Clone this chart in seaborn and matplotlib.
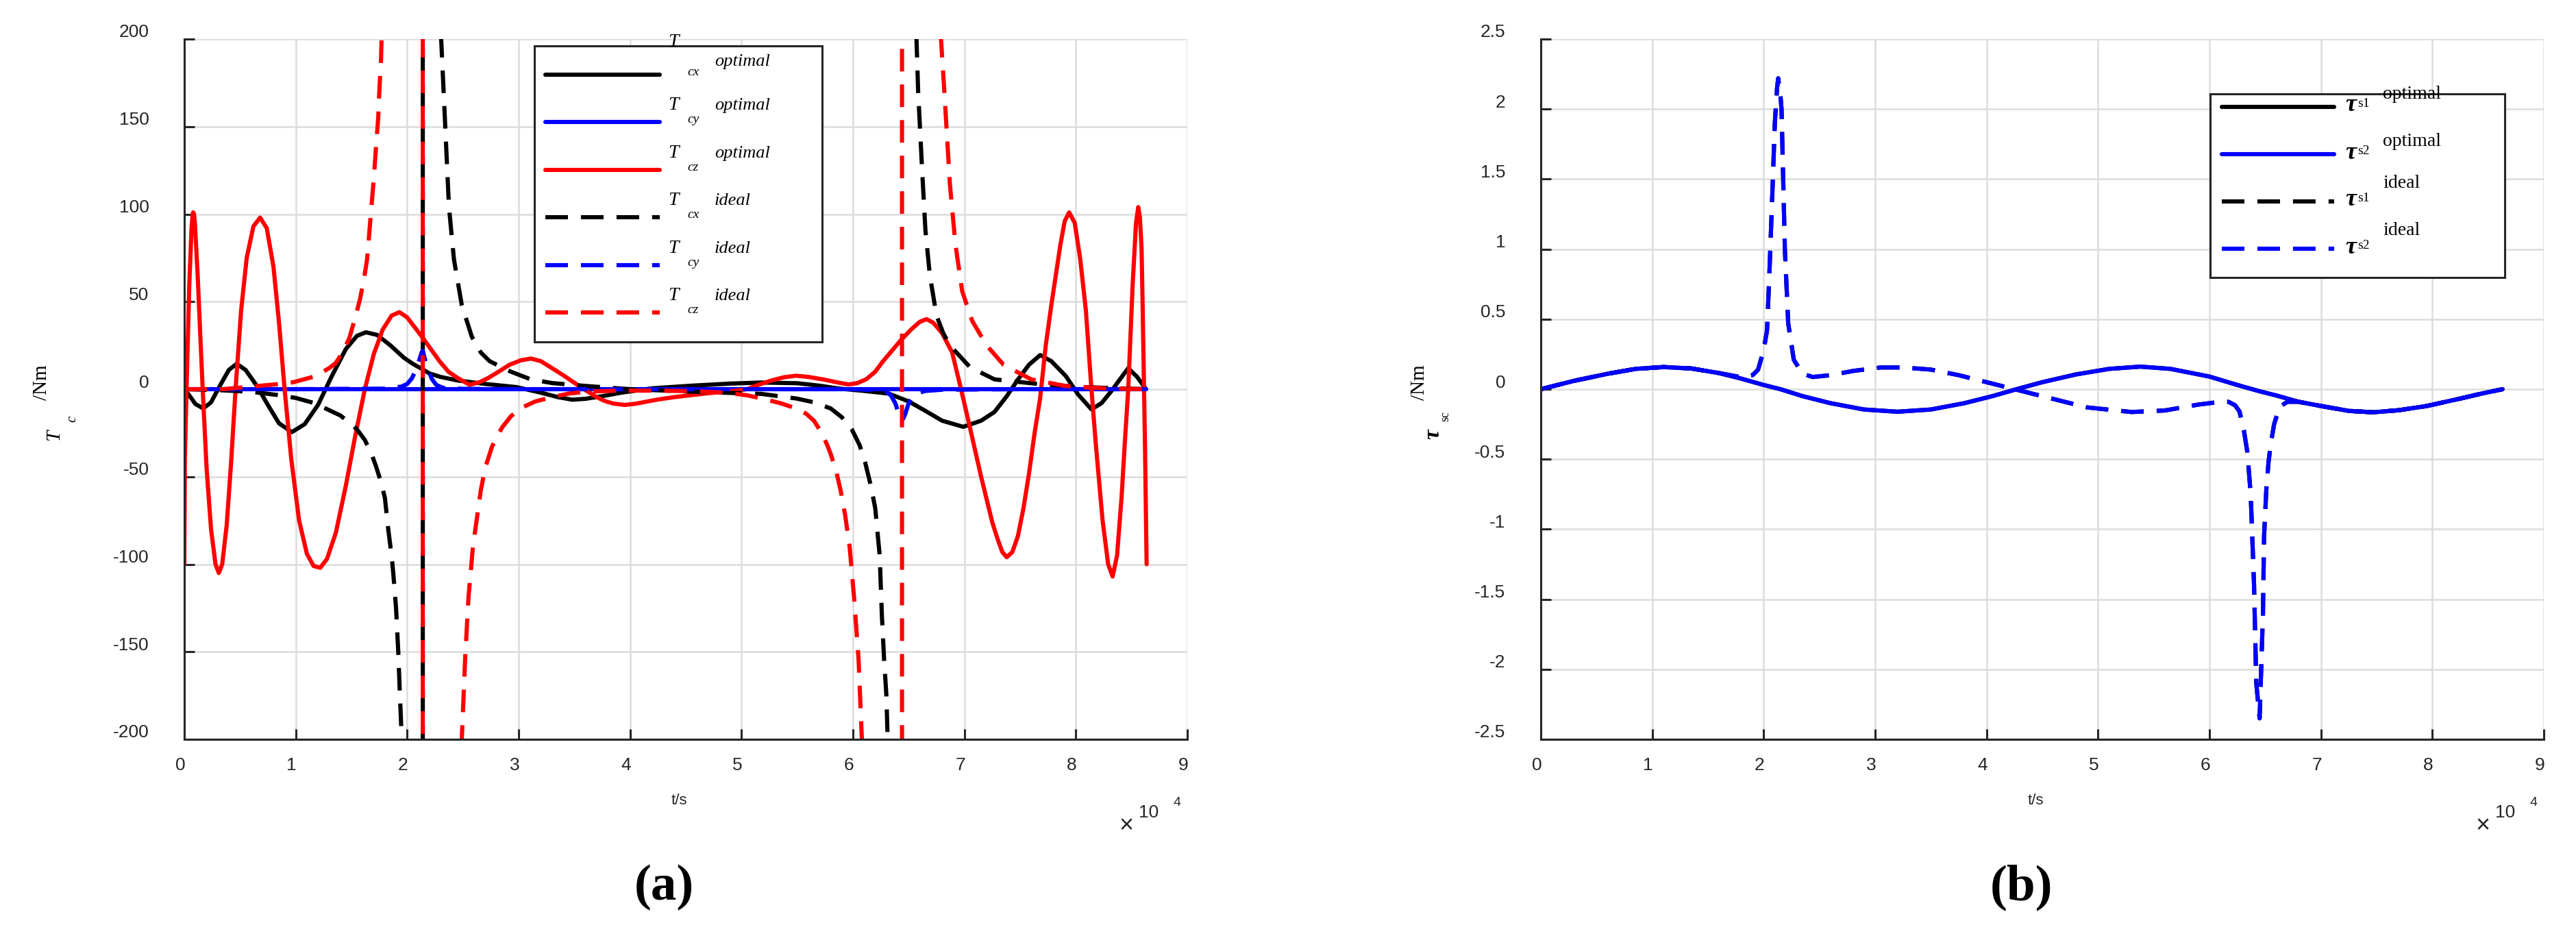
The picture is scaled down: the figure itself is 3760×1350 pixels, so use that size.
import numpy as np
import pandas as pd
import matplotlib
matplotlib.use("Agg")
import matplotlib.pyplot as plt
import seaborn as sns
from matplotlib.lines import Line2D
from matplotlib.patches import Rectangle
from matplotlib.transforms import ScaledTranslation

# ------------------------------------------------------------------
# DATA  (time in units of 1e4 s, value)
# ------------------------------------------------------------------
# (a) T_cx optimal
cx_opt = [(0.00, 0.0), (0.05, -4), (0.10, -8.5), (0.17, -11), (0.24, -7.5), (0.32, 2), (0.40, 11),
          (0.47, 14.5), (0.55, 11), (0.65, 2), (0.75, -9), (0.85, -19.5), (0.965, -24.5), (1.08, -20),
          (1.20, -9), (1.32, 7), (1.45, 23), (1.55, 30.5), (1.63, 32.5), (1.73, 31), (1.85, 25),
          (1.97, 18), (2.05, 14.5), (2.12, 12), (2.20, 9), (2.30, 7), (2.45, 5), (2.70, 3), (2.98, 1.2),
          (3.20, -2), (3.35, -4.5), (3.48, -6), (3.60, -5.5), (3.75, -4), (3.92, -2), (4.20, 0.5),
          (4.55, 2), (4.90, 3.2), (5.18, 3.8), (5.50, 3.4), (5.70, 2), (5.87, 0.4), (6.10, -1),
          (6.32, -2.5), (6.50, -7), (6.64, -12), (6.80, -18), (6.99, -21.5), (7.15, -18), (7.27, -13),
          (7.38, -4), (7.48, 5.5), (7.58, 14), (7.68, 19.5), (7.78, 16), (7.91, 7.5), (8.02, -3),
          (8.14, -11.5), (8.23, -8), (8.32, -1), (8.40, 6), (8.47, 12), (8.55, 7), (8.63, 0)]

# (a) T_cy optimal
cy_opt = [(0.00, 0.0), (2.00, 0.0), (4.00, 0.0), (6.00, 0.0), (8.63, 0.0)]

# (a) T_cz optimal
cz_opt = [(0.000, -100), (0.005, -40), (0.02, 0), (0.045, 60), (0.065, 92), (0.075, 100), (0.08, 101),
          (0.087, 100), (0.095, 95), (0.12, 65), (0.165, 0), (0.20, -45), (0.24, -80), (0.28, -100),
          (0.31, -105), (0.34, -100), (0.38, -78), (0.42, -42), (0.46, 0), (0.51, 45), (0.56, 75),
          (0.62, 93), (0.68, 98), (0.74, 92), (0.80, 70), (0.85, 38), (0.90, 0), (0.96, -40),
          (1.03, -75), (1.10, -94), (1.16, -101), (1.22, -102), (1.28, -97), (1.36, -82), (1.45, -55),
          (1.53, -28), (1.62, 0), (1.70, 20), (1.78, 34), (1.86, 42), (1.93, 44), (2.00, 41),
          (2.06, 36), (2.12, 31), (2.20, 24), (2.29, 16), (2.37, 10), (2.45, 6.5), (2.56, 2.5),
          (2.65, 4), (2.73, 6.5), (2.82, 10), (2.92, 14), (3.02, 16.5), (3.11, 17.5), (3.20, 16),
          (3.30, 12), (3.40, 8), (3.48, 4.5), (3.55, 1.5), (3.61, -1), (3.70, -4.5), (3.77, -6.7),
          (3.85, -8.2), (3.95, -9), (4.05, -8.3), (4.24, -6), (4.40, -4.5), (4.55, -3.4), (4.70, -2.3),
          (4.86, -1.4), (4.95, -0.8), (5.05, 0), (5.15, 2.5), (5.27, 5), (5.38, 6.8), (5.49, 7.7),
          (5.60, 7), (5.74, 5.5), (5.85, 4), (5.96, 2.7), (6.04, 3.5), (6.12, 5.7), (6.20, 10),
          (6.27, 16), (6.35, 22), (6.43, 28), (6.52, 34), (6.60, 38.5), (6.66, 40), (6.72, 38),
          (6.80, 32), (6.89, 21), (6.97, 0), (7.05, -22), (7.10, -36), (7.15, -50), (7.20, -63),
          (7.25, -76), (7.30, -86), (7.34, -93), (7.38, -96), (7.43, -93), (7.48, -84), (7.53, -68),
          (7.58, -48), (7.63, -25), (7.68, -5), (7.73, 25), (7.78, 48), (7.86, 82), (7.90, 96),
          (7.94, 101), (7.99, 95), (8.04, 74), (8.09, 45), (8.14, 0), (8.18, -32), (8.24, -75),
          (8.29, -100), (8.33, -107), (8.37, -95), (8.41, -62), (8.44, -30), (8.47, 0), (8.51, 60),
          (8.54, 95), (8.56, 104), (8.575, 98), (8.59, 80), (8.60, 45), (8.62, -30), (8.635, -100)]

# (a) T_cx ideal (two branches, singular near 6.44)
cx_ideal_1 = [(0.00, 0.0), (0.30, -0.5), (0.60, -1.5), (0.86, -3.5), (1.00, -5), (1.17, -8),
              (1.30, -12), (1.40, -15), (1.48, -19), (1.55, -23), (1.62, -29), (1.68, -37),
              (1.72, -44), (1.76, -52), (1.80, -62), (1.83, -80), (1.86, -95), (1.875, -105),
              (1.90, -125), (1.92, -150), (1.935, -175), (1.95, -198), (1.97, -250), (2.14, -2000),
              (2.14, 2000), (2.29, 250), (2.305, 200), (2.33, 166), (2.375, 104), (2.42, 74),
              (2.49, 48), (2.58, 30), (2.66, 21), (2.74, 16), (2.93, 10), (3.11, 5.6), (3.30, 3.5),
              (3.61, 1.8), (4.00, 0), (4.55, -1.4), (5.18, -2.7), (5.49, -5.3), (5.65, -7.5),
              (5.80, -11), (5.90, -16), (5.99, -23), (6.06, -32), (6.11, -42), (6.16, -55),
              (6.20, -68), (6.24, -95), (6.26, -130), (6.28, -155), (6.30, -175), (6.31, -197),
              (6.33, -260)]
cx_ideal_2 = [(6.55, 260), (6.57, 200), (6.585, 170), (6.62, 126), (6.65, 91), (6.69, 65),
              (6.75, 42), (6.81, 32), (6.87, 25), (7.05, 12.6), (7.27, 5.6), (7.66, 3), (8.04, 1.3),
              (8.42, 0.4), (8.63, 0)]

# (a) T_cy ideal
cy_ideal = [(0.00, 0.0), (1.00, 0.0), (1.80, 0.3), (1.95, 1.5), (2.00, 3), (2.04, 6), (2.08, 11),
            (2.11, 17), (2.13, 21), (2.14, 22), (2.16, 17), (2.19, 11), (2.22, 6), (2.26, 2.5),
            (2.32, 0.8), (2.50, 0.2), (3.00, 0), (4.00, 0), (5.00, 0), (6.00, 0), (6.20, -0.5),
            (6.30, -1.5), (6.34, -3.5), (6.38, -8), (6.41, -14), (6.43, -18), (6.45, -17),
            (6.47, -14), (6.50, -8), (6.53, -4.5), (6.57, -2.5), (6.65, -1), (6.80, -0.3),
            (7.50, 0), (8.63, 0)]

# (a) T_cz ideal (singular near 2.14 and 6.44)
cz_ideal = [(0.00, 0), (0.35, 0), (0.60, 1.5), (0.86, 3), (0.98, 4), (1.17, 7.3), (1.30, 12),
            (1.36, 15), (1.42, 21), (1.48, 29), (1.53, 40), (1.575, 51), (1.61, 62), (1.64, 74),
            (1.67, 97), (1.70, 120), (1.72, 138), (1.74, 155), (1.75, 170), (1.765, 188),
            (1.77, 200), (1.79, 250), (2.14, 2000), (2.14, -2000), (2.47, -250), (2.49, -200),
            (2.52, -154), (2.55, -119), (2.59, -90), (2.66, -58), (2.70, -45), (2.76, -33),
            (2.85, -22), (2.93, -15.5), (3.03, -10.5), (3.15, -7), (3.29, -4.7), (3.45, -2.5),
            (3.61, -1.4), (3.90, -0.8), (4.24, -0.8), (4.60, -1.2), (4.86, -2), (5.05, -3.5),
            (5.18, -5.3), (5.35, -8), (5.49, -11), (5.58, -14), (5.65, -18), (5.72, -25),
            (5.77, -32), (5.80, -37), (5.85, -47), (5.89, -58), (5.93, -72), (5.97, -90),
            (6.01, -119), (6.05, -154), (6.08, -200), (6.10, -250), (6.44, -2000), (6.44, 2000),
            (6.77, 250), (6.79, 200), (6.82, 170), (6.87, 117), (6.92, 82.5), (6.98, 56),
            (7.07, 39), (7.20, 25), (7.35, 14), (7.60, 5.6), (7.91, 1.8), (8.29, 0.4), (8.63, 0)]

# (b) tau_s1 / tau_s2 optimal (the two coincide)
tau_opt = [(0.00, 0.0), (0.30, 0.06), (0.60, 0.11), (0.85, 0.145), (1.10, 0.158), (1.35, 0.148),
           (1.60, 0.115), (1.80, 0.075), (2.00, 0.03), (2.15, 0.0), (2.35, -0.05), (2.60, -0.10),
           (2.90, -0.145), (3.20, -0.161), (3.50, -0.145), (3.80, -0.10), (4.05, -0.05),
           (4.27, 0.0), (4.50, 0.05), (4.80, 0.105), (5.10, 0.145), (5.38, 0.161), (5.65, 0.145),
           (6.00, 0.09), (6.25, 0.03), (6.45, -0.015), (6.60, -0.045), (6.80, -0.09),
           (7.00, -0.12), (7.25, -0.155), (7.47, -0.165), (7.70, -0.15), (7.95, -0.12),
           (8.25, -0.067), (8.45, -0.03), (8.63, 0.0)]

# (b) tau_s1 / tau_s2 ideal (the two coincide)
tau_ideal = [(0.00, 0.0), (0.30, 0.06), (0.60, 0.11), (0.85, 0.145), (1.10, 0.158), (1.35, 0.148),
             (1.60, 0.115), (1.80, 0.085), (1.90, 0.10), (1.95, 0.14), (2.00, 0.28), (2.03, 0.42),
             (2.05, 0.80), (2.08, 1.45), (2.10, 1.90), (2.12, 2.15), (2.13, 2.22), (2.15, 2.10),
             (2.16, 2.00), (2.175, 1.50), (2.19, 1.00), (2.22, 0.47), (2.27, 0.21), (2.35, 0.11),
             (2.44, 0.087), (2.60, 0.10), (2.80, 0.13), (3.05, 0.155), (3.25, 0.155), (3.50, 0.14),
             (3.75, 0.10), (4.00, 0.05), (4.30, -0.01), (4.60, -0.07), (4.90, -0.13),
             (5.30, -0.163), (5.60, -0.152), (5.90, -0.11), (6.10, -0.09), (6.17, -0.09),
             (6.23, -0.115), (6.27, -0.16), (6.31, -0.30), (6.34, -0.45), (6.37, -0.75),
             (6.40, -1.40), (6.42, -2.10), (6.45, -2.35), (6.46, -2.10), (6.48, -1.60),
             (6.49, -1.05), (6.51, -0.72), (6.53, -0.52), (6.55, -0.39), (6.58, -0.25),
             (6.63, -0.125), (6.70, -0.09), (6.80, -0.09), (7.00, -0.12), (7.25, -0.155),
             (7.47, -0.165), (7.70, -0.15), (7.95, -0.12), (8.25, -0.067), (8.45, -0.03),
             (8.63, 0.0)]

x_ticks = [0, 1, 2, 3, 4, 5, 6, 7, 8, 9]
a_yticks = [-200, -150, -100, -50, 0, 50, 100, 150, 200]
b_yticks = [-2.5, -2, -1.5, -1, -0.5, 0, 0.5, 1, 1.5, 2, 2.5]
b_yticklabels = ["-2.5", "-2", "-1.5", "-1", "-0.5", "0", "0.5", "1", "1.5", "2", "2.5"]

legend_a_sub = ["cx", "cy", "cz", "cx", "cy", "cz"]
legend_a_word = ["optimal", "optimal", "optimal", "ideal", "ideal", "ideal"]
legend_b_sub = ["s1", "s2", "s1", "s2"]
legend_b_word = ["optimal", "optimal", "ideal", "ideal"]

# ------------------------------------------------------------------
# STYLE
# ------------------------------------------------------------------
sns.set_style("white")
plt.rcParams["font.family"] = ["Liberation Sans", "DejaVu Sans"]
plt.rcParams["axes.unicode_minus"] = False
SERIF = ["Liberation Serif", "DejaVu Serif"]
INK = "#262626"
LW = 4.4
DASH = (0, (5.4, 3.1))
RED, BLUE, BLACK = "#ff0000", "#0000ff", "#000000"

W, H, DPI = 3760, 1350, 100
fig = plt.figure(figsize=(W / DPI, H / DPI), dpi=DPI)
fig.patch.set_facecolor("white")


def fx(px):
    return px / W


def fy(py):
    return 1 - py / H


def ftext(px, py, s, **kw):
    kw.setdefault("ha", "center")
    kw.setdefault("va", "center")
    kw.setdefault("color", INK)
    fig.text(fx(px), fy(py), s, **kw)


ax_a = fig.add_axes([fx(269), fy(1079), (1733 - 269) / W, (1079 - 57) / H])
ax_b = fig.add_axes([fx(2249), fy(1079), (3713 - 2249) / W, (1079 - 57) / H])


def draw(ax, branches, color, dashed):
    rows = []
    for k, br in enumerate(branches):
        for t, v in br:
            rows.append((t, v, k))
    df = pd.DataFrame(rows, columns=["t", "v", "branch"])
    kw = dict(color=color, linewidth=LW)
    if dashed:
        kw["linestyle"] = DASH
    sns.lineplot(data=df, x="t", y="v", units="branch", estimator=None, sort=False,
                 ax=ax, legend=False, **kw)


# (a)
draw(ax_a, [cx_opt], BLACK, False)
draw(ax_a, [cy_opt], BLUE, False)
draw(ax_a, [cz_opt], RED, False)
draw(ax_a, [cx_ideal_1, cx_ideal_2], BLACK, True)
draw(ax_a, [cy_ideal], BLUE, True)
draw(ax_a, [cz_ideal], RED, True)

# (b)
draw(ax_b, [tau_opt], BLACK, False)
draw(ax_b, [tau_opt], BLUE, False)
draw(ax_b, [tau_ideal], BLACK, True)
draw(ax_b, [tau_ideal], BLUE, True)


def style(ax, ylim, yticks, ylabels):
    ax.set_xlim(0, 9)
    ax.set_ylim(*ylim)
    ax.set_xticks(x_ticks)
    ax.set_xticklabels([str(v) for v in x_ticks])
    ax.set_yticks(yticks)
    ax.set_yticklabels(ylabels)
    ax.set_xlabel("")
    ax.set_ylabel("")
    ax.set_facecolor("white")
    ax.grid(True, color="#dcdcdc", linewidth=1.8)
    ax.set_axisbelow(True)
    for s in ("top", "right"):
        ax.spines[s].set_visible(False)
    for s in ("left", "bottom"):
        ax.spines[s].set_visible(True)
        ax.spines[s].set_color(INK)
        ax.spines[s].set_linewidth(2.2)
    ax.tick_params(which="both", direction="in", length=11, width=2.2, color=INK,
                   labelcolor=INK, labelsize=19, left=True, bottom=True, top=False, right=False)
    ax.tick_params(axis="y", pad=37)
    ax.tick_params(axis="x", pad=19)
    up = ScaledTranslation(0, 12 / DPI, fig.dpi_scale_trans)
    left = ScaledTranslation(-6 / DPI, 0, fig.dpi_scale_trans)
    for lab in ax.get_yticklabels():
        lab.set_transform(lab.get_transform() + up)
    for lab in ax.get_xticklabels():
        lab.set_transform(lab.get_transform() + left)


style(ax_a, (-200, 200), a_yticks, [str(v) for v in a_yticks])
style(ax_b, (-2.5, 2.5), b_yticks, b_yticklabels)

# ------------------------------------------------------------------
# TEXTS
# ------------------------------------------------------------------
for x0, right in ((991, 1733), (2971, 3713)):
    ftext(x0, 1168, "t/s", size=16)
    ftext(right - 89, 1206, "\u00d7", size=26)
    ftext(right - 56, 1186, "10", size=19)
    ftext(right - 15, 1172, "4", size=14)

ftext(969, 1295, "(a)", family=SERIF, weight="bold", size=54, color="black")
ftext(2950, 1295, "(b)", family=SERIF, weight="bold", size=54, color="black")

# y labels
ftext(61, 558, "/Nm", family=SERIF, size=21, rotation=90, color="black")
ftext(79, 635, "T", family=SERIF, style="italic", size=21, rotation=90, color="black")
ftext(106, 611, "c", family=SERIF, style="italic", size=15, rotation=90, color="black")

ftext(2072, 558, "/Nm", family=SERIF, size=21, rotation=90, color="black")
ftext(2092, 634, "\u03c4", family=SERIF, style="italic", weight="bold", size=24, rotation=90,
      color="black")
ftext(2110, 608, "sc", family=SERIF, size=13, rotation=90, color="black")

# ------------------------------------------------------------------
# LEGENDS (drawn manually to mimic the layout)
# ------------------------------------------------------------------
fig.add_artist(Rectangle((fx(780), fy(499)), 420 / W, 432 / H, transform=fig.transFigure,
                         facecolor="white", edgecolor=INK, linewidth=2.2, zorder=10))
styles_a = [(BLACK, False), (BLUE, False), (RED, False), (BLACK, True), (BLUE, True), (RED, True)]
for i, (col, dsh) in enumerate(styles_a):
    L = 109 + i * 69.4
    ln = Line2D([fx(796), fx(963)], [fy(L), fy(L)], transform=fig.transFigure, color=col,
                linewidth=LW, linestyle=DASH if dsh else "-", zorder=11)
    fig.add_artist(ln)
    tb = L - 41 if i == 0 else L - 18
    wb = L - 13 if i == 0 else L - 18
    fig.text(fx(983), fy(tb), "T", ha="center", va="baseline", family=SERIF, style="italic",
             size=20, color="black", zorder=12)
    fig.text(fx(1003), fy(L + 1), legend_a_sub[i], ha="left", va="baseline", family=SERIF,
             style="italic", size=14, color="black", zorder=12)
    fig.text(fx(1043), fy(wb), legend_a_word[i], ha="left", va="baseline", family=SERIF,
             style="italic", size=19, color="black", zorder=12)

fig.add_artist(Rectangle((fx(3226), fy(405)), 430 / W, 268 / H, transform=fig.transFigure,
                         facecolor="white", edgecolor=INK, linewidth=2.2, zorder=10))
styles_b = [(BLACK, False), (BLUE, False), (BLACK, True), (BLUE, True)]
for i, (col, dsh) in enumerate(styles_b):
    L = 156 + i * 69
    ln = Line2D([fx(3243), fx(3407)], [fy(L), fy(L)], transform=fig.transFigure, color=col,
                linewidth=LW, linestyle=DASH if dsh else "-", zorder=11)
    fig.add_artist(ln)
    fig.text(fx(3431), fy(L - 2), "\u03c4", ha="center", va="center", family=SERIF,
             style="italic", weight="bold", size=26, color="black", zorder=12)
    fig.text(fx(3441), fy(L), legend_b_sub[i], ha="left", va="baseline", family=SERIF,
             size=14, color="black", zorder=12)
    wb = L - 12 if legend_b_word[i] == "optimal" else L - 20
    fig.text(fx(3478), fy(wb), legend_b_word[i], ha="left", va="baseline", family=SERIF,
             size=20, color="black", zorder=12)

fig.savefig("out.png", dpi=DPI, facecolor="white")
